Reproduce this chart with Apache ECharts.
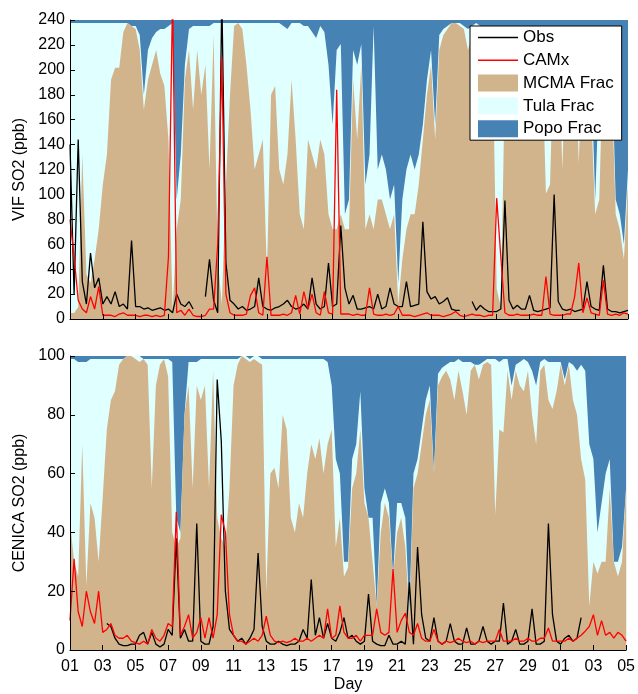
<!DOCTYPE html>
<html>
<head>
<meta charset="utf-8">
<script src="https://cdn.jsdelivr.net/npm/echarts@6/dist/echarts.min.js"></script>
<style>
html, body { margin: 0; padding: 0; background: #fff; }
#chartContainer { width: 638px; height: 694px; }
</style>
</head>
<body>
<div id="chartContainer"></div>
<script>
// 6-hourly samples, 4 per day, day 0 = "01"
var stepDays = 0.25;
var dayTicks = ['01','03','05','07','09','11','13','15','17','19','21','23','25','27','29','01','03','05'];

// VIF panel (ppb)
var vifObs = [
	140,20,144,30, 12,53,25,33, 12,18,12,22, 10,12,8,63, 10,10,8,9, 7,8,9,7, 8,5,20,12, 10,14,8,null,
	null,18,48,15, 5,260,45,15, 12,8,10,7, 8,10,33,10, 8,7,9,10, 12,15,10,8, 9,12,8,33, 12,8,10,45,
	10,12,75,25, 12,19,8,8, 9,10,8,20, 8,10,25,12, 10,10,30,10, 11,12,78,22, 16,18,12,14, 17,8,7,7,
	null,null,14,7, 11,8,6,6, 6,8,95,15, 8,11,8,8, 19,7,6,7, 8,9,100,14, 8,7,8,6, 7,8,30,10,
	8,7,43,8, 6,6,5,6, 7
];
var vifCamx = [
	80,50,15,8, 5,18,8,26, 3,3,3,2, 4,5,3,3, 3,2,3,3, 2,3,2,3, 50,260,5,7, 3,8,3,2,
	2,3,8,8, 60,210,20,5, 3,3,3,4, 19,25,5,3, 50,3,3,3, 4,3,5,19, 4,22,8,20, 5,3,22,5,
	4,184,4,4, 4,3,4,3, 3,25,4,3, 3,4,3,4, 10,3,3,3, 2,3,4,5, 3,3,3,2, 3,4,6,3,
	2,3,4,3, 3,2,3,3, 97,50,5,3, 3,4,3,3, 3,4,3,3, 34,4,3,3, 3,4,4,18, 45,5,17,5,
	4,3,31,4, 3,4,3,5, 4
];
var vifMcma = [
	.02,.02,.04,.55, .15,.12,.2,.3, .45,.55,.8,.84, .84,.96,.99,.98, .97,.9,.7,.8, .85,.9,.82,.78,
	.6,.03,.3,.4, .8,.9,.7,.9, .75,.85,.5,.95, .2,.05,.45,.75, .98,.99,.97,.85, .7,.5,.55,.6,
	.15,.75,.78,.5, .45,.55,.8,.6, .35,.3,.6,.55, .5,.6,.55,.35, .3,.3,.35,.3, .3,.8,.6,.85,
	.3,.35,.3,.4, .4,.35,.3,.35, .05,.2,.3,.35, .35,.45,.6,.75, .85,.6,.9,.95, .97,.99,.99,.98,
	.97,.9,.95,.97, .96,.95,.95,.9, .1,.04,.8,.95, .97,.95,.96,.95, .97,.95,.96,.9, .42,.45,.95,.97,
	.5,.95,.96,.95, .52,.95,.9,.7, .35,.4,.9,.92, .8,.35,.3,.2, .45
];
var vifPopo = [
	.01,.01,.01,.01, .01,.01,.01,.01, .01,.01,.01,.01, .01,.01,.01,.03, .02,.05,.25,.1, .06,.04,.03,.03,
	.02,.01,.6,.45, .15,.03,.02,.02, .02,.02,.02,.01, .01,.01,.01,.01, .01,.01,.01,.01, .01,.01,.01,.01,
	.01,.01,.01,.01, .02,.03,.01,.01, .01,.02,.02,.04, .06,.02,.04,.15, .35,.1,.08,.65, .6,.1,.15,.08,
	.55,.45,.02,.5, .45,.5,.6,.55, .88,.6,.5,.45, .5,.45,.35,.2, .1,.35,.05,.03, .02,.01,.01,.01,
	.02,.03,.02,.01, .02,.02,.02,.02, .03,.03,.02,.02, .02,.02,.02,.02, .02,.02,.02,.02, .02,.02,.02,.02,
	.02,.02,.02,.02, .03,.03,.05,.15, .6,.2,.05,.04, .1,.6,.65,.75, .5
];

// CENICA panel (ppb)
var cenObs = [
	null,null,null,null, null,null,null,null, null,9,8,4, 2,1.5,1.5,2, 2,5,6,2, 6,2,1,2, 7,5,38,4, 7,3,3,43,
	3,2,2,8, 92,71,20,7, 5,3,4,2, 4,7,33,8, 3,2,2,3, 2,1.5,2,2, 3,7,4,24, 5,11,4,9,
	4,3,6,11, 4,5,3,2, 3,19,3,2, 1.5,1.5,5,2, 2,3,2,23, 2,35,12,4, 3,11,3,2, 3,9,3,2,
	2,7.5,2,2, 3,8,3,2, 3,3,16,2, 3,7,2,2, 3,14,2,2, 3,43,12,3, 2,4,5,3, 4,11,null,null,
	null,null,null,null, null,null,null,null, null
];
var cenCamx = [
	10,31,13,8, 20,13,9,20, 6,7,9,5, 4,4,5,3, 2.5,2,3,2, 7,4,3,5, 9,8,47,5, 8,12,4,6,
	11,4,11,4, 12,46,40,12, 5,3,3,2, 3,4,3,5, 11.5,5,3,2.5, 3,2.5,3,4, 3,3,4,3, 4,5,4,14,
	4,5,15,6, 4,4,5,3, 5,5,5,14, 6,5,6,27.5, 6,10,12.5,6, 5,9,4,3, 3,7,3,2, 3,2.5,3,4,
	3,2.5,3,2, 3,2.5,3,3, 3,7,3,3, 3,4,3,3, 4,3,3,4, 4,7.5,3,3, 3,3,4,3, 4,5,6.4,8,
	12,5,10,5, 6,4,6,5, 3
];
var cenMcma = [
	.44,.3,.25,.7, .22,.5,.45,.3, .52,.75,.85,.88, .97,.99,1,1, .99,.98,.99,.97, .55,.9,.97,.99,
	.93,.4,.35,.38, .8,.9,.55,.9, .85,.9,.55,.95, .45,.38,.35,.55, .9,.97,1,.99, .98,.99,.98,.97,
	.2,.6,.62,.55, .8,.75,.45,.4, .5,.45,.6,.7, .65,.72,.6,.7, .75,.35,.45,.25, .28,.55,.6,.75,
	.5,.45,.3,.15, .4,.5,.45,.25, .4,.45,.35,.12, .55,.6,.7,.8, .85,.6,.9,.93, .95,.92,.85,.95,
	.88,.8,.95,.97, .92,.97,.98,.97, .46,.75,.74,.95, .85,.95,.9,.88, .95,.8,.7,.95, .97,.85,.82,.88,
	.97,.9,.97,.85, .8,.65,.58,.15, .3,.26,.3,.3, .55,.3,.25,.3, .55
];
var cenPopo = [
	.01,.01,.02,.02, .02,.01,.01,.01, .01,.01,.01,.01, .01,.01,0,0, 0,0,.01,.01, .01,.01,.01,.01,
	.01,.02,.55,.6, .2,.02,.02,.02, .01,.01,.01,.01, .01,.01,.01,.01, .01,.01,0,0, .01,0,0,.01,
	.01,.01,.01,.01, .01,.01,.01,.01, .01,.01,.01,.01, .01,.01,.01,.02, .1,.35,.4,.7, .7,.35,.3,.12,
	.45,.55,.55,.85, .5,.45,.5,.75, .5,.5,.55,.87, .4,.35,.25,.15, .1,.4,.06,.04, .03,.02,.02,.01,
	.02,.02,.02,.03, .03,.02,.01,.01, .01,.02,.01,.01, .1,.03,.02,.01, .02,.05,.1,.02, .01,.02,.02,.02,
	.02,.08,.02,.03, .05,.03,.05,.3, .35,.6,.5,.4, .35,.7,.7,.65, .45
];

var colorMcma = '#D2B48C';
var colorTula = '#E0FFFF';
var colorPopo = '#4682B4';
var fontName = 'Liberation Sans, Arial, Helvetica, sans-serif';
var lineIcon = 'path://M0,0 L40,0 L40,1.4 L0,1.4 Z';

/**
 * 数组转成 [day, value] 点
 */
function toPairs(arr, scale) {
	var out = [];
	for (var i = 0; i < arr.length; i++) {
		out.push([i * stepDays, arr[i] === null ? '-' : arr[i] * scale]);
	}
	return out;
}

/**
 * 三个来源的累计上沿: MCMA, MCMA+Tula, MCMA+Tula+Popo
 */
function fracLayers(mcma, popo) {
	var l1 = [], l2 = [], l3 = [];
	for (var i = 0; i < mcma.length; i++) {
		var tula = Math.max(0, 1 - mcma[i] - popo[i]);
		l1.push(mcma[i]);
		l2.push(mcma[i] + tula);
		l3.push(mcma[i] + tula + popo[i]);
	}
	return [l1, l2, l3];
}

function areaSeries(name, arr, scale, color, idx, z) {
	return {
		name: name,
		type: 'line',
		xAxisIndex: idx,
		yAxisIndex: idx,
		data: toPairs(arr, scale),
		symbol: 'none',
		silent: true,
		z: z,
		itemStyle: { color: color },
		lineStyle: { width: 0, color: color },
		areaStyle: { color: color, opacity: 1, origin: 'start' }
	};
}

function lineSeries(name, arr, color, idx) {
	return {
		name: name,
		type: 'line',
		xAxisIndex: idx,
		yAxisIndex: idx,
		data: toPairs(arr, 1),
		symbol: 'none',
		z: 5,
		itemStyle: { color: color },
		lineStyle: { width: 1.3, color: color }
	};
}

function xAxisOf(idx, showLabels) {
	var ax = {
		gridIndex: idx,
		type: 'value',
		min: 0,
		max: 34,
		interval: 2,
		z: 10,
		axisLine: { lineStyle: { color: '#000', width: 1 } },
		axisTick: { inside: true, length: 5, lineStyle: { color: '#000' } },
		axisLabel: { show: false },
		splitLine: { show: false }
	};
	if (showLabels) {
		ax.axisLabel = {
			show: true, color: '#000', fontSize: 16, fontFamily: fontName, margin: 9,
			formatter: function(v) { return dayTicks[Math.round(v / 2)]; }
		};
		ax.name = 'Day';
		ax.nameLocation = 'middle';
		ax.nameGap = 27;
		ax.nameTextStyle = { color: '#000', fontSize: 16, fontFamily: fontName };
	}
	return ax;
}

function yAxisOf(idx, name, max) {
	return {
		gridIndex: idx,
		type: 'value',
		min: 0,
		max: max,
		interval: 20,
		z: 10,
		name: name,
		nameLocation: 'middle',
		nameGap: 40,
		nameTextStyle: { color: '#000', fontSize: 16, fontFamily: fontName },
		axisLine: { show: true, lineStyle: { color: '#000', width: 1 } },
		axisTick: { show: true, inside: true, length: 5, lineStyle: { color: '#000' } },
		axisLabel: { color: '#000', fontSize: 16, fontFamily: fontName, margin: 5 },
		splitLine: { show: false }
	};
}

var vifLayers = fracLayers(vifMcma, vifPopo);
var cenLayers = fracLayers(cenMcma, cenPopo);

var myChart = echarts.init(document.getElementById('chartContainer'), null, { renderer: 'canvas' });
var option = {
	animation: false,
	backgroundColor: '#fff',
	textStyle: { fontFamily: fontName },
	grid: [
		{ left: 70, top: 20, width: 558, height: 299 },
		{ left: 70, top: 356, width: 558, height: 300 }
	],
	xAxis: [ xAxisOf(0, false), xAxisOf(1, true) ],
	yAxis: [ yAxisOf(0, 'VIF SO2 (ppb)', 240), yAxisOf(1, 'CENICA SO2 (ppb)', 100) ],
	legend: {
		orient: 'vertical',
		left: 470,
		top: 26,
		itemWidth: 40,
		itemHeight: 17,
		itemGap: 5.8,
		padding: [3, 8, 3, 8],
		borderColor: '#000',
		borderWidth: 1,
		borderRadius: 0,
		backgroundColor: '#fff',
		textStyle: { color: '#000', fontSize: 17, fontFamily: fontName },
		data: [
			{ name: 'Obs', icon: lineIcon, itemStyle: { color: '#000' } },
			{ name: 'CAMx', icon: lineIcon, itemStyle: { color: '#FF0000' } },
			{ name: 'MCMA Frac', icon: 'rect' },
			{ name: 'Tula Frac', icon: 'rect' },
			{ name: 'Popo Frac', icon: 'rect' }
		]
	},
	series: [
		areaSeries('Popo Frac', vifLayers[2], 240, colorPopo, 0, 1),
		areaSeries('Tula Frac', vifLayers[1], 240, colorTula, 0, 2),
		areaSeries('MCMA Frac', vifLayers[0], 240, colorMcma, 0, 3),
		lineSeries('Obs', vifObs, '#000', 0),
		lineSeries('CAMx', vifCamx, '#FF0000', 0),
		areaSeries('Popo Frac', cenLayers[2], 100, colorPopo, 1, 1),
		areaSeries('Tula Frac', cenLayers[1], 100, colorTula, 1, 2),
		areaSeries('MCMA Frac', cenLayers[0], 100, colorMcma, 1, 3),
		lineSeries('Obs', cenObs, '#000', 1),
		lineSeries('CAMx', cenCamx, '#FF0000', 1)
	]
};
// 显示图表
myChart.setOption(option);
</script>
</body>
</html>
